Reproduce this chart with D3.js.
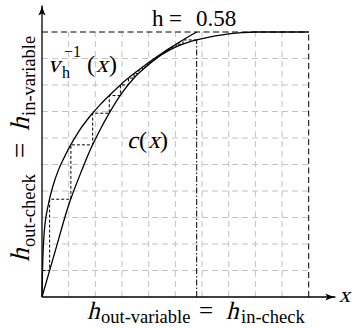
<!DOCTYPE html>
<html>
<head>
<meta charset="utf-8">
<script src="https://d3js.org/d3.v7.min.js"></script>
<style>
  body { margin: 0; background: #fff; }
  .grid { stroke: #c2c2c2; stroke-width: 1; stroke-dasharray: 6,4; fill: none; }
  .bound { stroke: #000; stroke-width: 1; stroke-dasharray: 6,3.5; fill: none; }
  .curve { fill: none; stroke: #000; stroke-width: 1.3; }
  .stair { fill: none; stroke: #000; stroke-width: 1; stroke-dasharray: 3,2; }
  .dashdot { fill: none; stroke: #000; stroke-width: 1; stroke-dasharray: 6,2,1.5,2; }
  .axis { stroke: #000; stroke-width: 1.3; }
  text { font-family: "Liberation Serif", serif; fill: #000; }
</style>
</head>
<body>
<svg width="355" height="328"></svg>
<script>
// curve c(x), lower one
var cX = [0, 0.05, 0.10, 0.15, 0.184, 0.22, 0.25, 0.30, 0.35, 0.40, 0.45, 0.50, 0.55, 0.58, 0.65, 0.70, 0.75, 0.80, 0.90, 1.0];
var cY = [0, 0.175, 0.347, 0.48, 0.562, 0.635, 0.69, 0.77, 0.832, 0.877, 0.915, 0.943, 0.962, 0.97, 0.985, 0.993, 0.998, 1.0, 1.0, 1.0];

// curve v_h^-1(x), upper one, ends at h
var vX = [0, 0.002, 0.008, 0.024, 0.04, 0.06, 0.08, 0.10, 0.14, 0.18, 0.22, 0.26, 0.30, 0.35, 0.40, 0.45, 0.50, 0.55, 0.58];
var vY = [0, 0.10, 0.24, 0.35, 0.415, 0.475, 0.52, 0.56, 0.628, 0.682, 0.728, 0.768, 0.806, 0.847, 0.885, 0.92, 0.952, 0.983, 1.0];

// staircase from the left
var leftX = [0.002, 0.0286, 0.1083, 0.19, 0.2522, 0.2939, 0.3244, 0.3452, 0.3623, 0.377, 0.3894, 0.40, 0.4105, 0.4203, 0.4292, 0.4374, 0.445];
var leftY = [0.10, 0.369, 0.5741, 0.6935, 0.7602, 0.8002, 0.826, 0.8431, 0.8563, 0.8675, 0.8769, 0.885, 0.8924, 0.8992, 0.9054, 0.9112, 0.9165];

// staircase from the right (starts at h)
var rightX = [0.58, 0.529, 0.5032, 0.4878, 0.4753, 0.4644, 0.4548];
var rightY = [0.97, 0.954, 0.9442, 0.9362, 0.9292, 0.9231, 0.9177];

var h = 0.58;
var gridTicks = [0.1, 0.2, 0.3, 0.4, 0.5, 0.6, 0.7, 0.8, 0.9];

var svg = d3.select('svg');

var x = d3.scaleLinear().domain([0, 1]).range([42, 308.7]);
var y = d3.scaleLinear().domain([0, 1]).range([297, 32]);

svg.append('defs').append('marker')
    .attr('id', 'arr')
    .attr('viewBox', '-11 -5 12 10')
    .attr('refX', 0).attr('refY', 0)
    .attr('markerWidth', 12).attr('markerHeight', 10)
    .attr('markerUnits', 'userSpaceOnUse')
    .attr('orient', 'auto')
    .append('path')
    .attr('d', 'M-10,-3.6 Q-4,-0.8 0,0 Q-4,0.8 -10,3.6 L-8,0 Z')
    .attr('fill', '#000');

// grid
svg.selectAll('.gv').data(gridTicks).enter().append('line')
    .attr('class', 'grid')
    .attr('x1', function (d) { return x(d); }).attr('x2', function (d) { return x(d); })
    .attr('y1', y(0)).attr('y2', y(1));
svg.selectAll('.gh').data(gridTicks).enter().append('line')
    .attr('class', 'grid')
    .attr('y1', function (d) { return y(d); }).attr('y2', function (d) { return y(d); })
    .attr('x1', x(0)).attr('x2', x(1));

// upper and right bounds
svg.append('line').attr('class', 'bound')
    .attr('x1', x(0)).attr('x2', x(1)).attr('y1', y(1)).attr('y2', y(1));
svg.append('line').attr('class', 'bound')
    .attr('x1', x(1)).attr('x2', x(1)).attr('y1', y(0)).attr('y2', y(1));

// h line
svg.append('line').attr('class', 'dashdot')
    .attr('x1', x(h)).attr('x2', x(h)).attr('y1', y(0)).attr('y2', y(rightY[0]));

var line = d3.line()
    .x(function (d) { return x(d[0]); })
    .y(function (d) { return y(d[1]); });

var smooth = d3.line()
    .x(function (d) { return x(d[0]); })
    .y(function (d) { return y(d[1]); })
    .curve(d3.curveMonotoneX);

function stairs(xs, ys) {
    var pts = [[xs[0], ys[0]]];
    for (var i = 1; i < xs.length; i++) {
        pts.push([xs[i], ys[i - 1]]);
        pts.push([xs[i], ys[i]]);
    }
    return pts;
}

svg.append('path').attr('class', 'stair').attr('d', line(stairs(leftX, leftY)));
svg.append('path').attr('class', 'stair').attr('d', line(stairs(rightX, rightY)));

svg.append('path').attr('class', 'curve')
    .attr('d', smooth(cX.map(function (d, i) { return [d, cY[i]]; })));
svg.append('path').attr('class', 'curve')
    .attr('d', smooth(vX.map(function (d, i) { return [d, vY[i]]; })));

// axes
svg.append('line').attr('class', 'axis')
    .attr('x1', x(0)).attr('y1', y(0)).attr('x2', x(1.1)).attr('y2', y(0))
    .attr('marker-end', 'url(#arr)');
svg.append('line').attr('class', 'axis')
    .attr('x1', x(0)).attr('y1', y(0)).attr('x2', x(0)).attr('y2', y(1.1))
    .attr('marker-end', 'url(#arr)');

// labels -- no serif italic installed, so italics are slanted by hand
function word(g, s, px, py, size, italic) {
    return g.append('text')
        .attr('font-size', size)
        .attr('transform', 'translate(' + px + ',' + py + ')' + (italic ? ' skewX(-14)' : ''))
        .text(s);
}

var hLabel = svg.append('g');
word(hLabel, 'h', 152, 26, 23, false);
word(hLabel, '=', 169, 26, 23, false);
word(hLabel, '0.58', 196, 26, 23, false);

var vLabel = svg.append('g');
word(vLabel, 'v', 48, 72, 24, true);
word(vLabel, 'h', 62, 78, 16, false);
word(vLabel, '\u22121', 64, 57, 16, false);
word(vLabel, '(', 87, 72, 24, false);
word(vLabel, 'x', 96, 72, 24, true);
word(vLabel, ')', 109, 72, 24, false);

var cLabel = svg.append('g');
word(cLabel, 'c', 127, 148, 24, true);
word(cLabel, '(', 139, 148, 24, false);
word(cLabel, 'x', 148, 148, 24, true);
word(cLabel, ')', 160, 148, 24, false);

word(svg, 'x', 339, 302, 22, true);

var xLabel = svg.append('g');
word(xLabel, 'h', 87, 319, 25, true);
word(xLabel, 'out-variable', 101, 323, 18.5, false);
word(xLabel, '=', 199, 319, 25, false);
word(xLabel, 'h', 226, 319, 25, true);
word(xLabel, 'in-check', 241, 323, 18.5, false);

var yLabel = svg.append('g').attr('transform', 'translate(29,262) rotate(-90)');
word(yLabel, 'h', 0, 0, 27, true);
word(yLabel, 'out-check', 15, 6, 18.5, false);
word(yLabel, '=', 104, 0, 27, false);
word(yLabel, 'h', 131, 0, 27, true);
word(yLabel, 'in-variable', 146, 6, 18.5, false);
</script>
</body>
</html>
